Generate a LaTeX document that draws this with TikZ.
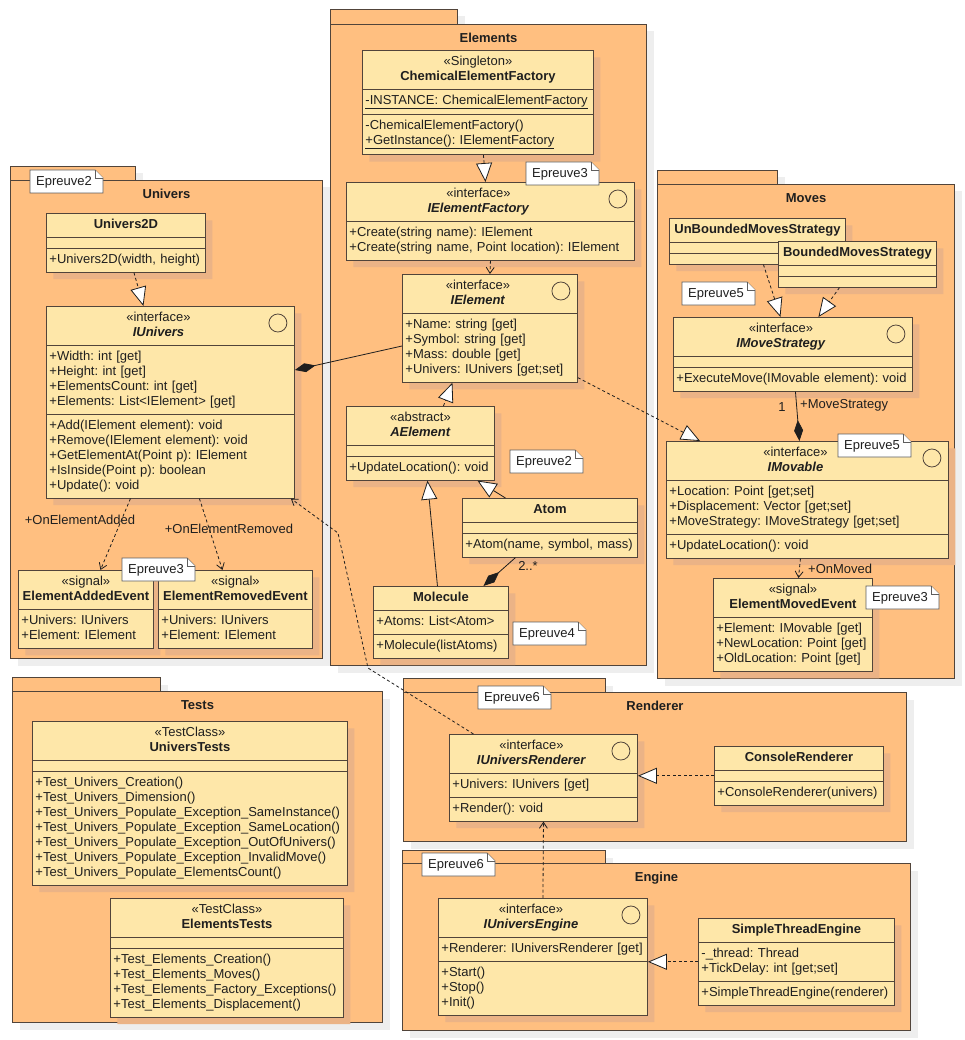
\documentclass[tikz,border=0pt]{standalone}
\usepackage{fontspec}
\setmainfont{Liberation Sans}
\usepackage{tikz}
\usetikzlibrary{positioning, arrows.meta, calc, shapes.multipart, shadows}
\definecolor{pkgorange}{HTML}{FFBF80}
\definecolor{classyellow}{HTML}{FEE7A9}
\definecolor{classshade}{HTML}{EBB386}
\definecolor{pkgshade}{HTML}{EEEEEE}
\definecolor{umlline}{HTML}{51443A}
\definecolor{notegray}{HTML}{5E5E5E}
\definecolor{linkblack}{HTML}{1E1E1E}

\newcommand{\ustrut}{\rule[-3.5pt]{0pt}{13pt}}
% header with stereotype; interfaces leave room for the circle
\newcommand{\stereo}[2]{\ustrut\makebox[\linewidth]{«#1»}\\\makebox[\linewidth]{#2}\ustrut}
\newcommand{\istereo}[2]{\ustrut\makebox[\dimexpr\linewidth-24pt\relax]{«#1»}\\\makebox[\dimexpr\linewidth-24pt\relax]{#2}\ustrut}
\newcommand{\cname}[1]{\ustrut\makebox[\linewidth]{\textbf{#1}}\ustrut}
\newcommand{\ifacemark}[1]{\draw[umlline, line width=0.8pt] ($(#1.north east)+(-17,17)$) circle[radius=9pt];}
\newcommand{\epnote}[4]{%
  \filldraw[notebox] (#2,#3) -- ++(65,0) -- ++(8,8) -- ++(0,15) -- ++(-73,0) -- cycle;
  \draw[notebox] (#2+65,#3) -- ++(0,8) -- ++(8,0);
  \node[notetext] (#1) at (#2+6,#3+12) {#4};}

\tikzset{
  umlfont/.style={font=\fontsize{13}{15}\selectfont\frenchspacing},
  pkgtab/.style={draw=umlline, fill=pkgorange, line width=1pt, inner sep=0pt, anchor=north west,
    drop shadow={shadow xshift=7pt, shadow yshift=-7pt, fill=pkgshade, opacity=1}},
  pkgbody/.style={pkgtab},
  pkgtitle/.style={font=\fontsize{13}{15}\selectfont\bfseries, text=black!88, inner sep=0pt,
    text height=9.5pt, text depth=2.5pt},
  umlclass/.style={rectangle split, rectangle split parts=3, draw=umlline, fill=classyellow,
    line width=0.9pt, text=black!88, anchor=north west, inner xsep=3pt, inner ysep=5pt,
    align=left, umlfont,
    drop shadow={shadow xshift=7pt, shadow yshift=-7pt, fill=classshade, opacity=1}},
  twopart/.style={rectangle split parts=2},
  notebox/.style={draw=notegray, fill=white, line width=0.8pt},
  notetext/.style={umlfont, text=black!88, inner sep=0pt, anchor=west},
  conlabel/.style={umlfont, text=black!88, inner sep=0pt},
  realize/.style={draw=linkblack, line width=0.8pt, dash pattern=on 3pt off 2.5pt,
    -{Triangle[length=19pt, width=16pt, fill=white]}},
  generalize/.style={draw=linkblack, line width=0.8pt, -{Triangle[length=19pt, width=16pt, fill=white]}},
  depend/.style={draw=linkblack, line width=0.8pt, dash pattern=on 3pt off 2.5pt,
    -{Straight Barb[length=6pt, width=8pt]}},
  compose/.style={draw=linkblack, line width=0.8pt, -{Diamond[length=21pt, width=9pt]}}
}

\begin{document}
\begin{tikzpicture}[x=1pt, y=-1pt]
  \useasboundingbox (0,0) rectangle (964,1040);

  % packages
  \node[pkgtab, minimum width=125pt, minimum height=14pt] (univtab) at (10,166) {};
  \node[pkgbody, minimum width=312pt, minimum height=478pt] (univpkg) at (10,180) {};
  \node[pkgtitle, below=8.5pt of univpkg.north] (univtitle) {Univers};

  \node[pkgtab, minimum width=127pt, minimum height=15pt] (elemtab) at (330,9) {};
  \node[pkgbody, minimum width=316pt, minimum height=641pt] (elempkg) at (330,24) {};
  \node[pkgtitle, below=8.5pt of elempkg.north] (elemtitle) {Elements};

  \node[pkgtab, minimum width=120pt, minimum height=14pt] (movetab) at (657,170) {};
  \node[pkgbody, minimum width=297pt, minimum height=494pt] (movepkg) at (657,184) {};
  \node[pkgtitle, below=8.5pt of movepkg.north] (movetitle) {Moves};

  \node[pkgtab, minimum width=148pt, minimum height=14pt] (testtab) at (12,677) {};
  \node[pkgbody, minimum width=370pt, minimum height=331pt] (testpkg) at (12,691) {};
  \node[pkgtitle, below=8.5pt of testpkg.north] (testtitle) {Tests};

  \node[pkgtab, minimum width=202pt, minimum height=14pt] (rendtab) at (403,678) {};
  \node[pkgbody, minimum width=503pt, minimum height=149pt] (rendpkg) at (403,692) {};
  \node[pkgtitle, below=8.5pt of rendpkg.north] (rendtitle) {Renderer};

  \node[pkgtab, minimum width=203pt, minimum height=13pt] (engtab) at (402,850) {};
  \node[pkgbody, minimum width=508pt, minimum height=167pt] (engpkg) at (402,863) {};
  \node[pkgtitle, below=8.5pt of engpkg.north] (engtitle) {Engine};

  % Univers
  \node[umlclass, text width=153pt] (univ2d) at (46,213) {\cname{Univers2D}
    \nodepart{two}\nodepart{three}\ustrut+Univers2D(width, height)\ustrut};
  \node[umlclass, text width=242pt] (iunivers) at (46,306) {\istereo{interface}{\textbf{\textit{IUnivers}}}
    \nodepart{two}\ustrut+Width: int [get]\\+Height: int [get]\\+ElementsCount: int [get]\\+Elements: List<IElement> [get]\ustrut
    \nodepart{three}\ustrut+Add(IElement element): void\\+Remove(IElement element): void\\+GetElementAt(Point p): IElement\\+IsInside(Point p): boolean\\+Update(): void\ustrut};
  \ifacemark{iunivers}
  \node[umlclass, twopart, text width=129pt] (addedevt) at (18,570) {\stereo{signal}{\textbf{ElementAddedEvent}}
    \nodepart{two}\ustrut+Univers: IUnivers\\+Element: IElement\ustrut};
  \node[umlclass, twopart, text width=148pt] (removedevt) at (158,570) {\stereo{signal}{\textbf{ElementRemovedEvent}}
    \nodepart{two}\ustrut+Univers: IUnivers\\+Element: IElement\ustrut};

  % Elements
  \node[umlclass, text width=225pt] (chemfactory) at (362,50) {\stereo{Singleton}{\textbf{ChemicalElementFactory}}
    \nodepart{two}\ustrut\underline{-INSTANCE: ChemicalElementFactory}\ustrut
    \nodepart{three}\ustrut-ChemicalElementFactory()\\\underline{+GetInstance(): IElementFactory}\ustrut};
  \node[umlclass, twopart, text width=282pt] (ielemfactory) at (346,182) {\istereo{interface}{\textbf{\textit{IElementFactory}}}
    \nodepart{two}\ustrut+Create(string name): IElement\\+Create(string name, Point location): IElement\ustrut};
  \ifacemark{ielemfactory}
  \node[umlclass, twopart, text width=169pt] (ielement) at (402,274) {\istereo{interface}{\textbf{\textit{IElement}}}
    \nodepart{two}\ustrut+Name: string [get]\\+Symbol: string [get]\\+Mass: double [get]\\+Univers: IUnivers [get;set]\ustrut};
  \ifacemark{ielement}
  \node[umlclass, text width=142pt] (aelement) at (346,406) {\stereo{abstract}{\textbf{\textit{AElement}}}
    \nodepart{two}\nodepart{three}\ustrut+UpdateLocation(): void\ustrut};
  \node[umlclass, text width=169pt] (atom) at (462,498) {\cname{Atom}
    \nodepart{two}\nodepart{three}\ustrut+Atom(name, symbol, mass)\ustrut};
  \node[umlclass, text width=129pt] (molecule) at (373,586) {\cname{Molecule}
    \nodepart{two}\ustrut+Atoms: List<Atom>\ustrut
    \nodepart{three}\ustrut+Molecule(listAtoms)\ustrut};

  % Moves
  \node[umlclass, text width=170pt] (unbounded) at (669,218) {\cname{UnBoundedMovesStrategy}
    \nodepart{two}\nodepart{three}};
  \node[umlclass, text width=152pt] (bounded) at (778,241) {\cname{BoundedMovesStrategy}
    \nodepart{two}\nodepart{three}};
  \node[umlclass, text width=233pt] (imovestrategy) at (673,317) {\istereo{interface}{\textbf{\textit{IMoveStrategy}}}
    \nodepart{two}\nodepart{three}\ustrut+ExecuteMove(IMovable element): void\ustrut};
  \ifacemark{imovestrategy}
  \node[umlclass, text width=276pt] (imovable) at (666,441) {\istereo{interface}{\textbf{\textit{IMovable}}}
    \nodepart{two}\ustrut+Location: Point [get;set]\\+Displacement: Vector [get;set]\\+MoveStrategy: IMoveStrategy [get;set]\ustrut
    \nodepart{three}\ustrut+UpdateLocation(): void\ustrut};
  \ifacemark{imovable}
  \node[umlclass, twopart, text width=153pt] (movedevt) at (713,578) {\stereo{signal}{\textbf{ElementMovedEvent}}
    \nodepart{two}\ustrut+Element: IMovable [get]\\+NewLocation: Point [get]\\+OldLocation: Point [get]\ustrut};

  % Tests
  \node[umlclass, text width=309pt] (universtests) at (32,721) {\stereo{TestClass}{\textbf{UniversTests}}
    \nodepart{two}\nodepart{three}\ustrut+Test\_Univers\_Creation()\\+Test\_Univers\_Dimension()\\+Test\_Univers\_Populate\_Exception\_SameInstance()\\+Test\_Univers\_Populate\_Exception\_SameLocation()\\+Test\_Univers\_Populate\_Exception\_OutOfUnivers()\\+Test\_Univers\_Populate\_Exception\_InvalidMove()\\+Test\_Univers\_Populate\_ElementsCount()\ustrut};
  \node[umlclass, text width=227pt] (elementstests) at (110,898) {\stereo{TestClass}{\textbf{ElementsTests}}
    \nodepart{two}\nodepart{three}\ustrut+Test\_Elements\_Creation()\\+Test\_Elements\_Moves()\\+Test\_Elements\_Factory\_Exceptions()\\+Test\_Elements\_Displacement()\ustrut};

  % Renderer
  \node[umlclass, text width=182pt] (iuniversrenderer) at (449,734) {\istereo{interface}{\textbf{\textit{IUniversRenderer}}}
    \nodepart{two}\ustrut+Univers: IUnivers [get]\ustrut
    \nodepart{three}\ustrut+Render(): void\ustrut};
  \ifacemark{iuniversrenderer}
  \node[umlclass, text width=163pt] (consolerenderer) at (714,746) {\cname{ConsoleRenderer}
    \nodepart{two}\nodepart{three}\ustrut+ConsoleRenderer(univers)\ustrut};

  % Engine
  \node[umlclass, text width=203pt] (iuniversengine) at (438,898) {\istereo{interface}{\textbf{\textit{IUniversEngine}}}
    \nodepart{two}\ustrut+Renderer: IUniversRenderer [get]\ustrut
    \nodepart{three}\ustrut+Start()\\+Stop()\\+Init()\ustrut};
  \ifacemark{iuniversengine}
  \node[umlclass, text width=190pt] (simplethread) at (698,918) {\cname{SimpleThreadEngine}
    \nodepart{two}\ustrut-\_thread: Thread\\+TickDelay: int [get;set]\ustrut
    \nodepart{three}\ustrut+SimpleThreadEngine(renderer)\ustrut};

  % connectors
  \draw[realize] ([xshift=8pt]univ2d.south) -- ([xshift=-27pt]iunivers.north);
  \draw[compose] ([yshift=-72pt]ielement.north west) -- ([yshift=-64pt]iunivers.north east);
  \draw[depend] ([xshift=-40pt]iunivers.south) -- ([xshift=14.5pt]addedevt.north);
  \draw[depend] ([xshift=29pt]iunivers.south) -- ([xshift=-13pt]removedevt.north);
  \node[conlabel] (lbladded) at (80,520) {+OnElementAdded};
  \node[conlabel] (lblremoved) at (229,529) {+OnElementRemoved};

  \coordinate (bendlow) at (368,668);
  \coordinate (bendhigh) at (338,533);
  \draw[depend] ([xshift=-70pt]iuniversrenderer.north) -- (bendlow) -- (bendhigh) -- ([xshift=-4pt]iunivers.south east);

  \draw[realize] ([xshift=5.5pt]chemfactory.south) -- ([xshift=-5pt]ielemfactory.north);
  \draw[depend] (ielemfactory.south) -- (ielement.north);
  \draw[realize] ([xshift=23pt]aelement.north) -- ([xshift=-37.5pt]ielement.south);
  \draw[generalize] ([xshift=-44.5pt]atom.north) -- ([xshift=57pt]aelement.south);
  \draw[generalize] ([xshift=-3.5pt]molecule.north) -- ([xshift=7pt]aelement.south);
  \draw[compose] ([xshift=-34.5pt]atom.south) -- ([xshift=42.5pt]molecule.north);
  \node[conlabel] (lblmany) at (528,566) {2..*};
  \draw[realize] ([yshift=5pt]ielement.south east) -- ([xshift=34pt]imovable.north west);

  \draw[realize] ([xshift=6pt]unbounded.south) -- ([xshift=-12.5pt]imovestrategy.north);
  \draw[realize] ([xshift=-18pt]bounded.south) -- ([xshift=25.5pt]imovestrategy.north);
  \draw[compose] ([xshift=2.5pt]imovestrategy.south) -- ([xshift=-8pt]imovable.north);
  \node[conlabel] (lblone) at (782,407) {1};
  \node[conlabel, anchor=west] (lblstrategy) at (800,405) {+MoveStrategy};
  \draw[depend] ([xshift=-7pt]imovable.south) -- ([xshift=5.5pt]movedevt.north);
  \node[conlabel, anchor=west] (lblmoved) at (808,569) {+OnMoved};

  \draw[realize] (consolerenderer.west) -- (consolerenderer.west -| iuniversrenderer.east);
  \draw[depend] (iuniversengine.north) -- (iuniversrenderer.south);
  \draw[realize] (simplethread.west) -- (simplethread.west -| iuniversengine.east);

  % notes
  \epnote{noteunivA}{30}{170}{Epreuve2}
  \epnote{noteunivB}{122}{558}{Epreuve3}
  \epnote{noteelemA}{526}{162}{Epreuve3}
  \epnote{noteelemB}{510}{450}{Epreuve2}
  \epnote{noteelemC}{513}{622}{Epreuve4}
  \epnote{notemoveA}{682}{282}{Epreuve5}
  \epnote{notemoveB}{838}{434}{Epreuve5}
  \epnote{notemoveC}{866}{586}{Epreuve3}
  \epnote{noterend}{478}{686}{Epreuve6}
  \epnote{noteeng}{422}{853}{Epreuve6}
\end{tikzpicture}
\end{document}
